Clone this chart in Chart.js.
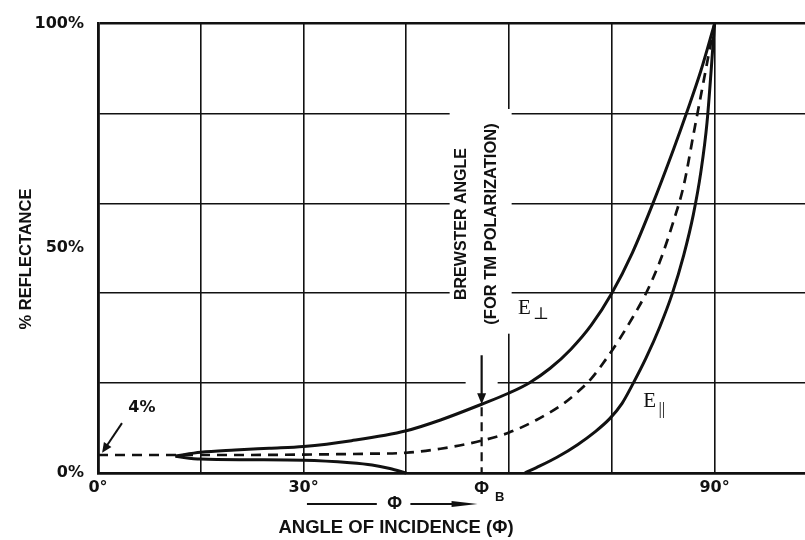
<!DOCTYPE html>
<html>
<head>
<meta charset="utf-8">
<title>Reflectance vs. Angle of Incidence</title>
<script src="https://cdn.jsdelivr.net/npm/chart.js@4.4.1/dist/chart.umd.min.js"></script>
<style>
  html, body { margin: 0; padding: 0; background: #ffffff; }
  #wrap { width: 805px; height: 540px; }
</style>
</head>
<body>
<div id="wrap"><canvas id="chart" width="805" height="540"></canvas></div>
<script>
// Perpendicular (TE) component, E⊥
const perpAngles  = [11.3, 15, 20, 25, 30, 37, 45, 50, 56, 60, 63, 66, 69, 72, 75, 78, 81, 84, 86, 88, 90];
const perpReflect = [3.8, 4.6, 5.1, 5.5, 5.9, 7.2, 9.4, 11.8, 15.3, 17.8, 20.1, 23.3, 27.5, 32.9, 40, 49, 60, 72, 80.5, 89.5, 100];

// Parallel (TM) component, E∥ – low-angle branch that falls to zero
const parLowAngles  = [11.3, 15, 22, 30, 36.8, 40, 42.6, 45];
const parLowReflect = [3.7, 3.1, 2.95, 2.85, 2.3, 1.8, 1.0, 0];

// Parallel (TM) component, E∥ – branch rising from zero to grazing incidence
const parAngles  = [62.3, 64, 67, 70, 72.5, 74.7, 76.5, 78, 80, 82, 83.8, 85.5, 86.9, 88, 88.9, 90];
const parReflect = [0, 1.2, 3.5, 6.3, 9.1, 12.1, 15.5, 19.6, 25.6, 32.5, 39.8, 48.5, 57.5, 67, 78, 100];

// Average (unpolarized) reflectance, dashed
const avgAngles  = [0, 11, 20, 30, 40, 45, 50, 56, 60, 64, 68, 70, 72, 74, 76, 78, 80, 82, 84, 85.5, 87, 88.5, 90];
const avgReflect = [4, 4, 4, 4.1, 4.3, 4.5, 5.4, 7.2, 9, 11.8, 15.5, 18, 21, 25, 29.5, 34.5, 40, 47, 56, 64, 76, 88, 100];

// Axes
const xGridTicks   = [0, 15, 30, 45, 60, 75, 90];
const xLabelValues = [0, 30, 90];
const xLabelTexts  = ['0°', '30°', '90°'];
const yGridTicks   = [0, 20, 40, 60, 80, 100];
const yLabelValues = [0, 50, 100];
const yLabelTexts  = ['0%', '50%', '100%'];

const brewsterAngle = 56;
const normalReflect = 4;

const INK = '#111111';
const SANS = '"Liberation Sans", Arial, sans-serif';
const SERIF = '"Liberation Serif", "DejaVu Serif", serif';

function toPoints(xs, ys) { return xs.map((x, i) => ({ x: x, y: ys[i] })); }

function lineSet(label, xs, ys, dash) {
  return {
    label: label,
    data: toPoints(xs, ys),
    borderColor: INK,
    borderWidth: dash ? 2.7 : 3,
    borderDash: dash || [],
    pointRadius: 0,
    fill: false,
    cubicInterpolationMode: 'monotone',
    clip: 4
  };
}

function fillHead(ctx, tipX, tipY, ang, len, half) {
  const bx = tipX - Math.cos(ang) * len, by = tipY - Math.sin(ang) * len;
  const nx = -Math.sin(ang) * half, ny = Math.cos(ang) * half;
  ctx.beginPath();
  ctx.moveTo(tipX, tipY);
  ctx.lineTo(bx + nx, by + ny);
  ctx.lineTo(bx - nx, by - ny);
  ctx.closePath();
  ctx.fill();
}

function rotatedText(ctx, text, cx, cy) {
  ctx.save();
  ctx.translate(cx, cy);
  ctx.rotate(-Math.PI / 2);
  ctx.fillText(text, 0, 0);
  ctx.restore();
}

// Labels, arrows and the Brewster-angle callout
const notes = {
  id: 'fresnelNotes',
  beforeDatasetsDraw(chart) {
    const { ctx } = chart;
    const xs = chart.scales.x, ys = chart.scales.y;
    const bx = xs.getPixelForValue(brewsterAngle);
    ctx.save();
    ctx.fillStyle = '#ffffff';
    // clear the grid behind the rotated callout text
    const top = ys.getPixelForValue(81), bot = ys.getPixelForValue(31);
    ctx.fillRect(bx - 32, top, 62, bot - top);
    // clear the grid around the Brewster arrow
    const t2 = ys.getPixelForValue(22), b2 = ys.getPixelForValue(18);
    ctx.fillRect(bx - 16, t2, 32, b2 - t2);
    ctx.restore();
  },
  afterDatasetsDraw(chart) {
    const { ctx, chartArea } = chart;
    const xs = chart.scales.x, ys = chart.scales.y;
    const px = v => xs.getPixelForValue(v);
    const py = v => ys.getPixelForValue(v);
    ctx.save();
    ctx.fillStyle = INK;
    ctx.strokeStyle = INK;
    ctx.textAlign = 'center';
    ctx.textBaseline = 'middle';

    // Brewster arrow and dashed drop line
    const bx = px(brewsterAngle);
    const tipY = py(15.3);
    ctx.lineWidth = 2.2;
    ctx.beginPath();
    ctx.moveTo(bx, py(26.2));
    ctx.lineTo(bx, tipY - 8);
    ctx.stroke();
    fillHead(ctx, bx, tipY, Math.PI / 2, 11, 4.5);
    ctx.setLineDash([9, 6]);
    ctx.beginPath();
    ctx.moveTo(bx, tipY + 3);
    ctx.lineTo(bx, chartArea.bottom);
    ctx.stroke();
    ctx.setLineDash([]);

    // Brewster callout
    ctx.font = 'bold 16px ' + SANS;
    rotatedText(ctx, 'BREWSTER ANGLE', bx - 20, 224);
    ctx.font = 'bold 16.5px ' + SANS;
    rotatedText(ctx, '(FOR TM POLARIZATION)', bx + 10, 224);

    // 4% callout at normal incidence
    ctx.lineWidth = 2;
    const ax0 = px(3.5), ay0 = py(11.1);
    const ax1 = px(0.6), ay1 = py(normalReflect + 0.5);
    const ang = Math.atan2(ay1 - ay0, ax1 - ax0);
    ctx.beginPath();
    ctx.moveTo(ax0, ay0);
    ctx.lineTo(ax1 - Math.cos(ang) * 6, ay1 - Math.sin(ang) * 6);
    ctx.stroke();
    fillHead(ctx, ax1, ay1, ang, 10, 4.5);
    ctx.font = 'bold 16px "DejaVu Sans", sans-serif';
    ctx.fillText('4%', px(6.4), py(14.4));

    // Curve labels
    ctx.font = '21px ' + SERIF;
    ctx.textAlign = 'left';
    ctx.fillText('E', px(61.3), py(36.6));
    ctx.font = '17px "DejaVu Serif", serif';
    ctx.fillText('⊥', px(63.5), py(35.3));
    ctx.font = '21px ' + SERIF;
    ctx.fillText('E', px(79.6), py(16.0));
    ctx.font = '17px ' + SERIF;
    ctx.fillText('||', px(81.8), py(14.2));

    // Brewster tick label under the axis
    const base = chartArea.bottom;
    ctx.textAlign = 'center';
    ctx.font = 'bold 18px ' + SANS;
    ctx.fillText('Φ', bx, base + 16);
    ctx.font = 'bold 13px ' + SANS;
    ctx.fillText('B', bx + 18, base + 24);

    // Direction-of-increase arrow
    const ry = base + 31;
    ctx.lineWidth = 1.8;
    ctx.beginPath();
    ctx.moveTo(px(30.5), ry);
    ctx.lineTo(px(40.7), ry);
    ctx.moveTo(px(45.6), ry);
    ctx.lineTo(px(52), ry);
    ctx.stroke();
    fillHead(ctx, px(55.4), ry, 0, 26, 3);
    ctx.font = 'bold 18px ' + SANS;
    ctx.fillText('Φ', px(43.3), ry);

    // Axis titles
    ctx.font = 'bold 18.5px ' + SANS;
    ctx.fillText('ANGLE OF INCIDENCE (Φ)', px(43.5), base + 55);
    ctx.font = 'bold 16.5px ' + SANS;
    rotatedText(ctx, '% REFLECTANCE', 26, 259);

    ctx.restore();
  }
};

function mergedTicks(a, b) {
  return Array.from(new Set(a.concat(b))).sort((p, q) => p - q).map(v => ({ value: v }));
}

new Chart(document.getElementById('chart'), {
  type: 'line',
  data: {
    datasets: [
      lineSet('E⊥', perpAngles, perpReflect),
      lineSet('E∥ (low angle)', parLowAngles, parLowReflect),
      lineSet('E∥', parAngles, parReflect),
      lineSet('Average', avgAngles, avgReflect, [10, 7])
    ]
  },
  options: {
    responsive: false,
    animation: false,
    devicePixelRatio: 1,
    layout: { padding: { top: 16, right: 0, bottom: 0, left: 0 } },
    plugins: { legend: { display: false }, tooltip: { enabled: false }, title: { display: false } },
    scales: {
      x: {
        type: 'linear',
        min: 0,
        max: 103.2,
        afterBuildTicks: s => { s.ticks = mergedTicks(xGridTicks, []); },
        afterFit: s => { s.height = 67; },
        grid: {
          color: INK,
          lineWidth: c => (c.tick && c.tick.value === 0 ? 2.6 : 1.6),
          drawTicks: false
        },
        border: { display: true, color: INK, width: 2.6 },
        ticks: {
          autoSkip: false,
          maxRotation: 0,
          padding: 5,
          color: INK,
          font: { family: '"DejaVu Sans", sans-serif', weight: 'bold', size: 16 },
          callback: v => { const i = xLabelValues.indexOf(v); return i >= 0 ? xLabelTexts[i] : ''; }
        }
      },
      y: {
        type: 'linear',
        min: 0,
        max: 100,
        afterBuildTicks: s => { s.ticks = mergedTicks(yGridTicks, yLabelValues); },
        afterFit: s => { s.width = 98; },
        grid: {
          color: c => (c.tick && yGridTicks.includes(c.tick.value) ? INK : 'rgba(0,0,0,0)'),
          lineWidth: c => (c.tick && (c.tick.value === 100 || c.tick.value === 0) ? 2.6 : 1.6),
          drawTicks: false
        },
        border: { display: true, color: INK, width: 2.6 },
        ticks: {
          autoSkip: false,
          padding: 14,
          color: INK,
          font: { family: '"DejaVu Sans", sans-serif', weight: 'bold', size: 16 },
          callback: v => { const i = yLabelValues.indexOf(v); return i >= 0 ? yLabelTexts[i] : ''; }
        }
      }
    }
  },
  plugins: [notes]
});
</script>
</body>
</html>
